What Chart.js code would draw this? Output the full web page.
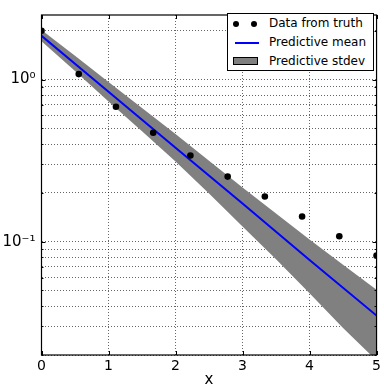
<!DOCTYPE html>
<html>
<head>
<meta charset="utf-8">
<script src="https://cdn.jsdelivr.net/npm/chart.js@4.4.0/dist/chart.umd.min.js"></script>
<style>
    html, body { margin: 0; padding: 0; background: #fff; }
    #wrap { position: relative; width: 384px; height: 389px; }
    #legend {
        position: absolute; left: 227px; top: 13px; width: 147px; height: 58px;
        box-sizing: border-box; border: 1px solid #000; background: #fff;
        font: 12px 'DejaVu Sans', sans-serif; color: #000;
    }
    .row { position: absolute; left: 0; width: 100%; height: 19px; }
    .label { position: absolute; left: 41px; top: 0; line-height: 19px; white-space: nowrap; }
    .dot { position: absolute; top: 6.5px; width: 6px; height: 6px; border-radius: 50%; background: #000; }
    .line { position: absolute; left: 7px; top: 8.5px; width: 24px; height: 2px; background: #0000ff; }
    .patch { position: absolute; left: 5px; top: 5px; width: 25px; height: 8px; box-sizing: border-box; border: 1px solid #000; background: #808080; }
</style>
</head>
<body>
<div id="wrap">
    <canvas id="chart" width="384" height="389"></canvas>
    <div id="legend">
        <div class="row" style="top:0px">
            <span class="dot" style="left:5px"></span><span class="dot" style="left:23px"></span>
            <span class="label">Data from truth</span>
        </div>
        <div class="row" style="top:19px">
            <span class="line"></span>
            <span class="label">Predictive mean</span>
        </div>
        <div class="row" style="top:38px">
            <span class="patch"></span>
            <span class="label">Predictive stdev</span>
        </div>
    </div>
</div>
<script>
// observed data
const truthX = [0, 0.556, 1.111, 1.667, 2.222, 2.778, 3.333, 3.889, 4.444, 5];
const truthY = [2.0, 1.08, 0.68, 0.47, 0.34, 0.252, 0.19, 0.143, 0.108, 0.082];

// predictive mean (straight on log axis)
const meanX = [0, 1, 2, 3, 4, 5];
const meanY = [1.86, 0.84, 0.38, 0.172, 0.077, 0.035];

// predictive stdev band
const bandX = [0, 0.5, 1, 1.5, 2, 2.5, 3, 3.5, 4, 4.5, 5];
const upperY = [2.02, 1.40, 0.966, 0.668, 0.462, 0.316, 0.216, 0.149, 0.103, 0.072, 0.0506];
const lowerY = [1.72, 1.13, 0.733, 0.479, 0.312, 0.198, 0.124, 0.078, 0.048, 0.0293, 0.0185];

// axes
const xTicks = [0, 1, 2, 3, 4, 5];
const yTicks = [0.02, 0.03, 0.04, 0.05, 0.06, 0.07, 0.08, 0.09,
                0.1, 0.2, 0.3, 0.4, 0.5, 0.6, 0.7, 0.8, 0.9, 1, 2];
const yLabels = { '0.1': '10⁻¹', '1': '10⁰' };

const pts = (xs, ys) => xs.map((x, i) => ({ x: x, y: ys[i] }));

const gridColor = 'rgba(0,0,0,0.6)';

// box round the plot + small inward ticks like matplotlib
const frame = {
    id: 'frame',
    afterDatasetsDraw(chart) {
        const ctx = chart.ctx, a = chart.chartArea;
        const xs = chart.scales.x, ys = chart.scales.y;
        ctx.save();
        ctx.strokeStyle = '#000';
        ctx.lineWidth = 1;
        ctx.beginPath();
        xTicks.forEach(v => {
            const px = Math.round(xs.getPixelForValue(v)) + 0.5;
            ctx.moveTo(px, a.bottom); ctx.lineTo(px, a.bottom - 4);
            ctx.moveTo(px, a.top); ctx.lineTo(px, a.top + 4);
        });
        yTicks.forEach(v => {
            const py = Math.round(ys.getPixelForValue(v)) + 0.5;
            const len = yLabels[v] ? 4 : 2;
            ctx.moveTo(a.left, py); ctx.lineTo(a.left + len, py);
            ctx.moveTo(a.right, py); ctx.lineTo(a.right - len, py);
        });
        ctx.stroke();
        ctx.lineWidth = 1.2;
        ctx.strokeRect(a.left, a.top, a.right - a.left, a.bottom - a.top);
        ctx.restore();
    }
};

new Chart(document.getElementById('chart'), {
    type: 'scatter',
    data: {
        datasets: [
            {
                label: 'Data from truth',
                data: pts(truthX, truthY),
                backgroundColor: '#000', borderColor: '#000',
                pointRadius: 3.3, pointBorderWidth: 0,
                showLine: false, clip: 0, order: 0
            },
            {
                label: 'Predictive mean',
                data: pts(meanX, meanY),
                borderColor: '#0000ff', borderWidth: 2,
                pointRadius: 0, showLine: true, clip: 0, order: 1
            },
            {
                label: 'Predictive stdev',
                data: pts(bandX, upperY),
                borderColor: 'rgba(0,0,0,0)', backgroundColor: '#808080',
                pointRadius: 0, showLine: true, fill: '+1', clip: 0, order: 2
            },
            {
                label: 'lower',
                data: pts(bandX, lowerY),
                borderColor: 'rgba(0,0,0,0)',
                pointRadius: 0, showLine: true, fill: false, clip: 0, order: 3
            }
        ]
    },
    options: {
        responsive: false,
        animation: false,
        layout: { padding: { top: 6, right: 3.5, left: 0, bottom: 0 } },
        plugins: { legend: { display: false }, tooltip: { enabled: false } },
        scales: {
            x: {
                type: 'linear', min: 0, max: 5,
                afterBuildTicks: s => { s.ticks = xTicks.map(v => ({ value: v })); },
                afterFit: s => { s.height = 34; },
                ticks: { color: '#000', padding: 3, font: { family: 'DejaVu Sans', size: 14 } },
                grid: { color: gridColor, lineWidth: 1, drawTicks: false },
                border: { display: false, dash: [1, 2] },
                title: {
                    display: true, text: 'x', color: '#000',
                    font: { family: 'DejaVu Sans', size: 15, lineHeight: 1 },
                    padding: { top: 0, bottom: 1 }
                }
            },
            y: {
                type: 'logarithmic', min: 0.02, max: 2.5,
                afterBuildTicks: s => { s.ticks = yTicks.map(v => ({ value: v })); },
                afterFit: s => { s.width = 41.5; },
                ticks: {
                    autoSkip: false, color: '#000', padding: 6,
                    font: { family: 'DejaVu Sans', size: 15 },
                    callback: v => yLabels[v] || ''
                },
                grid: { color: gridColor, lineWidth: 1, drawTicks: false },
                border: { display: false, dash: [1, 2] }
            }
        }
    },
    plugins: [frame]
});
</script>
</body>
</html>
